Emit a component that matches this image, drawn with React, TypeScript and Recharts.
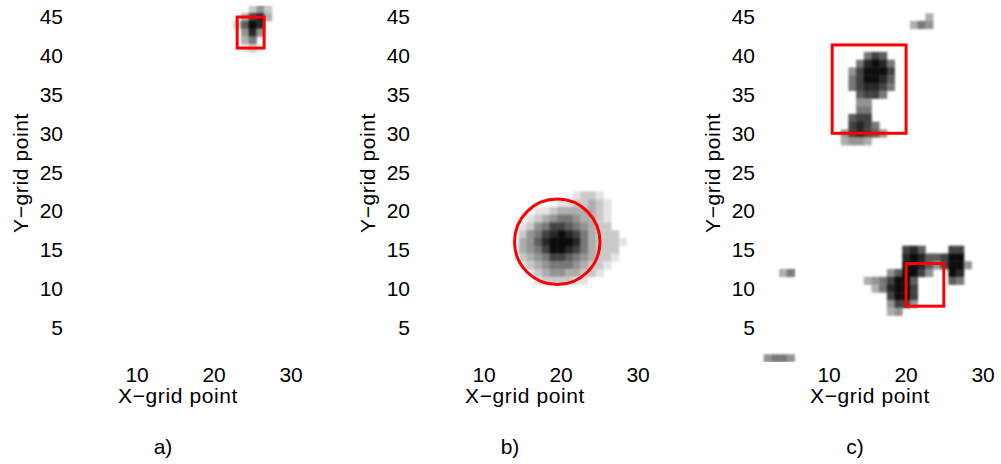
import { ScatterChart, Scatter, XAxis, YAxis } from 'recharts'

const xTicks = [10, 20, 30]
const yTicks = [5, 10, 15, 20, 25, 30, 35, 40, 45]
const xDomain: [number, number] = [0.5, 33.5]
const yDomain: [number, number] = [0.5, 46.5]

// each blob: first column, top row, one digit per grid cell (0 empty .. 9 black)
const blobA = {
  x0: 23,
  yTop: 46,
  rows: ['00242', '03783', '26980', '04840', '03500', '01200'],
}

const blobB = {
  x0: 14,
  yTop: 22,
  rows: [
    '000000001221000',
    '000000112232100',
    '000112333332100',
    '001234554332100',
    '012457765432200',
    '024578987532220',
    '034689998532221',
    '034579987532220',
    '023457765432210',
    '012345554322100',
    '001234433221000',
    '000122221100000',
  ],
}

const blobCStreakTop = { x0: 21, yTop: 45, rows: ['003', '354'] }
const blobCUpper = {
  x0: 13,
  yTop: 40,
  rows: ['005760', '058985', '479997', '579986', '578875', '067750', '044000'],
}
const blobCLower = {
  x0: 12,
  yTop: 33,
  rows: ['005500', '067700', '078750', '478764', '344300'],
}
const blobCSpeck = { x0: 4, yTop: 12, rows: ['35'] }
const blobCStreakBottom = { x0: 2, yTop: 1, rows: ['4554'] }
const blobCCluster = {
  x0: 15,
  yTop: 15,
  rows: [
    '00000786000770',
    '00000898667990',
    '00000998647994',
    '00046997400980',
    '34579960000650',
    '03589970000000',
    '00079970000000',
    '00047740000000',
    '00034000000000',
  ],
}

// red markers, in grid units
const boxesA = [{ x1: 23, x2: 26.5, y1: 41, y2: 45 }]
const ringsB = [{ x: 19.5, y: 16, r: 5.55 }]
const boxesC = [
  { x1: 10.4, x2: 20, y1: 30, y2: 41.4 },
  { x1: 20, x2: 24.9, y1: 7.7, y2: 13.2 },
]

type Blob = { x0: number; yTop: number; rows: string[] }
type Cell = { x: number; y: number; v: number }
type Box = { x1: number; x2: number; y1: number; y2: number }
type Ring = { x: number; y: number; r: number }

function toCells(blobs: Blob[]): Cell[] {
  const out: Cell[] = []
  blobs.forEach((b) => {
    b.rows.forEach((row, i) => {
      row.split('').forEach((ch, j) => {
        const v = Number(ch)
        if (v > 0) out.push({ x: b.x0 + j, y: b.yTop - i, v })
      })
    })
  })
  return out
}

const W = 340
const H = 464
const MARGIN = { top: 5.4, right: 22, bottom: 72, left: 0 }
const Y_AXIS_W = 64
const X_AXIS_H = 30
const PLOT_W = W - MARGIN.left - MARGIN.right - Y_AXIS_W
const PLOT_H = H - MARGIN.top - MARGIN.bottom - X_AXIS_H
const CELL_W = PLOT_W / (xDomain[1] - xDomain[0])
const CELL_H = PLOT_H / (yDomain[1] - yDomain[0])

const FONT = '"Liberation Sans", Arial, sans-serif'
const tickStyle = { fill: '#000', fontSize: 21, fontFamily: FONT }
const RED = '#ff0000'

const HeatCell = (props: any) => {
  const { cx, cy, payload } = props
  const g = Math.max(0, Math.round(255 - payload.v * 27))
  return (
    <rect
      x={cx - CELL_W / 2}
      y={cy - CELL_H / 2}
      width={CELL_W + 0.4}
      height={CELL_H + 0.4}
      fill={`rgb(${g},${g},${g})`}
    />
  )
}

const BoxShape = (props: any) => {
  const { cx, cy, payload } = props
  const w = payload.w * CELL_W
  const h = payload.h * CELL_H
  return <rect x={cx - w / 2} y={cy - h / 2} width={w} height={h} fill="none" stroke={RED} strokeWidth={3} />
}

const RingShape = (props: any) => {
  const { cx, cy, payload } = props
  return <circle cx={cx} cy={cy} r={payload.r * CELL_W} fill="none" stroke={RED} strokeWidth={3} />
}

function Panel({ left, cells, boxes = [], rings = [] }: { left: number; cells: Cell[]; boxes?: Box[]; rings?: Ring[] }) {
  const boxData = boxes.map((b) => ({ x: (b.x1 + b.x2) / 2, y: (b.y1 + b.y2) / 2, w: b.x2 - b.x1, h: b.y2 - b.y1 }))
  return (
    <div style={{ position: 'absolute', left, top: 0 }}>
      <ScatterChart width={W} height={H} margin={MARGIN}>
        <XAxis
          type="number"
          dataKey="x"
          domain={xDomain}
          ticks={xTicks}
          allowDataOverflow
          axisLine={false}
          tickLine={false}
          tickSize={0}
          tickMargin={5}
          height={X_AXIS_H}
          tick={tickStyle}
        />
        <YAxis
          type="number"
          dataKey="y"
          domain={yDomain}
          ticks={yTicks}
          allowDataOverflow
          axisLine={false}
          tickLine={false}
          tickSize={0}
          tickMargin={1}
          width={Y_AXIS_W}
          tick={tickStyle}
        />
        <Scatter className="heat-layer" data={cells} shape={HeatCell} isAnimationActive={false} />
        {boxData.length > 0 && <Scatter data={boxData} shape={BoxShape} isAnimationActive={false} />}
        {rings.length > 0 && <Scatter data={rings} shape={RingShape} isAnimationActive={false} />}
      </ScatterChart>
    </div>
  )
}

const panelLefts = [0, 347, 692]
const panelTitles = ['a)', 'b)', 'c)']

export default function App() {
  return (
    <div style={{ position: 'absolute', left: 0, top: 0, width: 1001, height: 464, background: '#fff', overflow: 'hidden' }}>
      <style>{'.heat-layer { filter: blur(1.1px); }'}</style>
      <Panel left={panelLefts[0]} cells={toCells([blobA])} boxes={boxesA} />
      <Panel left={panelLefts[1]} cells={toCells([blobB])} rings={ringsB} />
      <Panel
        left={panelLefts[2]}
        cells={toCells([blobCStreakTop, blobCUpper, blobCLower, blobCSpeck, blobCStreakBottom, blobCCluster])}
        boxes={boxesC}
      />
      <svg width={1001} height={464} style={{ position: 'absolute', left: 0, top: 0, pointerEvents: 'none' }}>
        {panelLefts.map((l, i) => (
          <g key={i} fontFamily={FONT} fill="#000">
            <text x={l + 178} y={403} fontSize={21} letterSpacing={0.6} textAnchor="middle">
              X−grid point
            </text>
            <text
              x={l + 20}
              y={173}
              fontSize={21}
              letterSpacing={0.6}
              textAnchor="middle"
              dominantBaseline="central"
              transform={`rotate(-90 ${l + 20} 173)`}
            >
              Y−grid point
            </text>
            <text x={l + 163} y={454} fontSize={21} textAnchor="middle">
              {panelTitles[i]}
            </text>
          </g>
        ))}
      </svg>
    </div>
  )
}
